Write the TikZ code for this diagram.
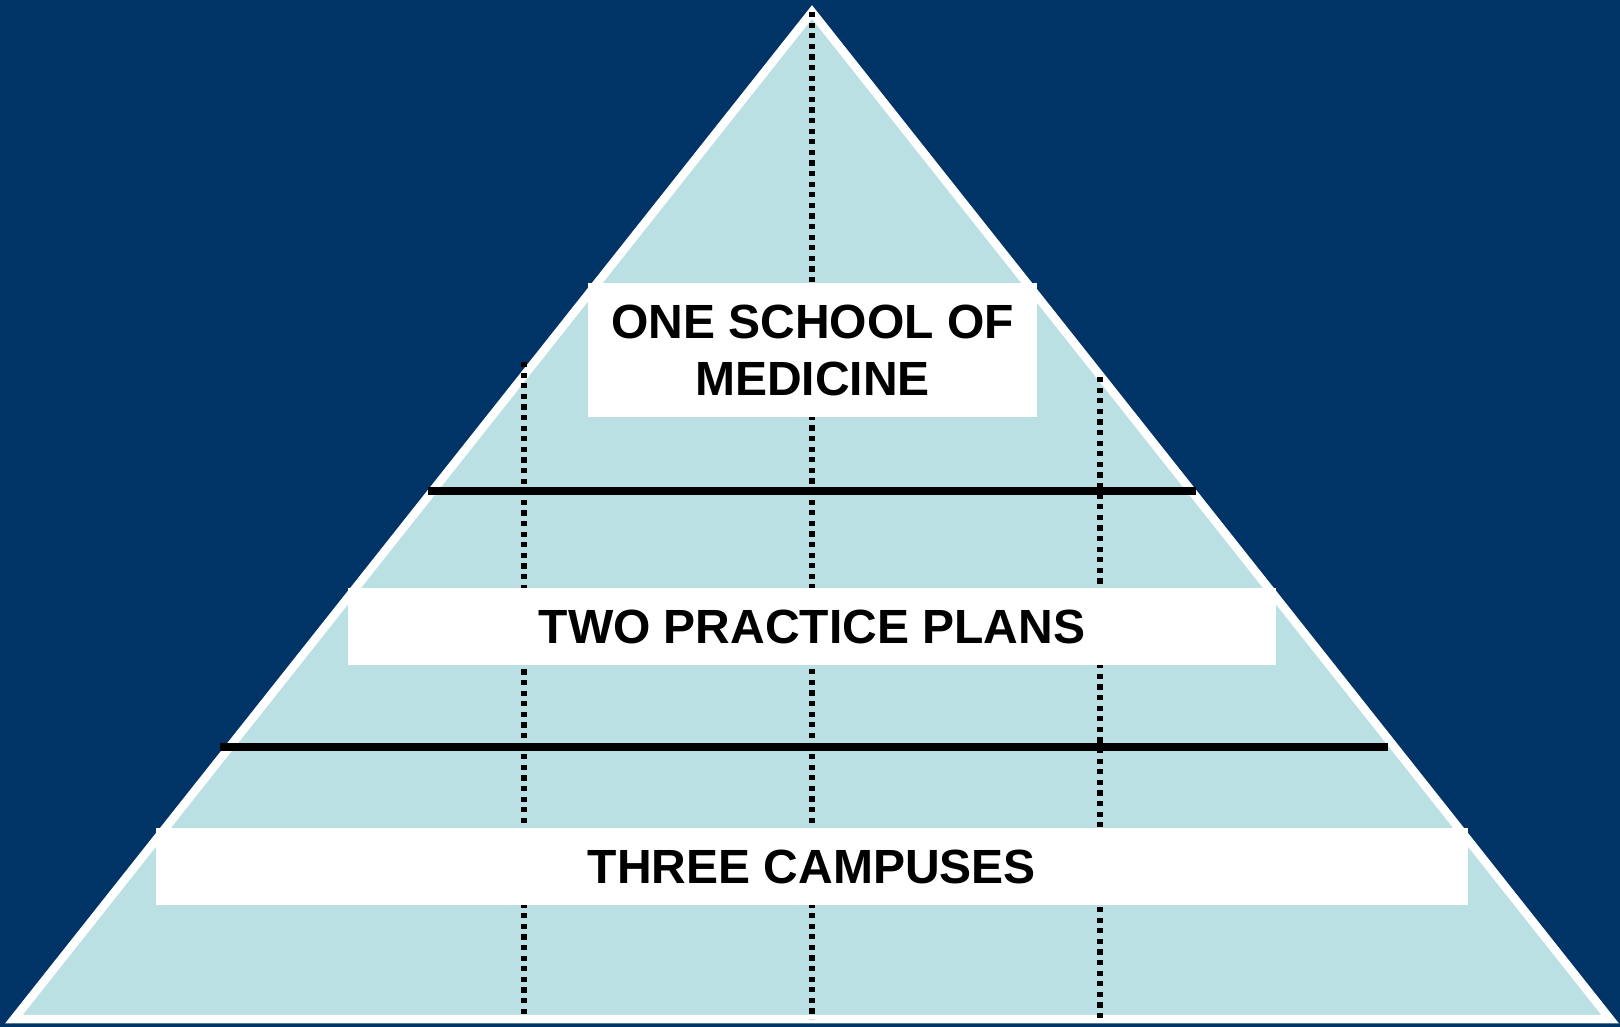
\documentclass[tikz,border=0pt]{standalone}
\usepackage{fontspec}
\setmainfont{Liberation Sans}
\definecolor{navy}{HTML}{003366}
\definecolor{paleblue}{HTML}{BBE0E3}

\begin{document}
\begin{tikzpicture}[x=1pt, y=-1pt,
    levelbox/.style={fill=white, inner sep=0pt, align=center,
      font=\fontsize{48}{57}\selectfont\bfseries},
    dotline/.style={line width=5.2pt, dash pattern=on 5.2pt off 5.4pt},
    tierline/.style={line width=7.5pt}]
        % Background
        \fill[navy] (0,0) rectangle (1620,1027);
        \useasboundingbox (0,0) rectangle (1620,1027);

        % Corners of the pyramid
        \coordinate (A) at (812,12);
        \coordinate (B) at (14,1019);
        \coordinate (C) at (1610,1019);

        % Pyramid
        \fill[paleblue] (A) -- (B) -- (C) -- cycle;
        \draw[white, line width=8.5pt] (A) -- (B) -- (C) -- cycle;

        % Tier lines
        \coordinate (T1L) at (428,491);
        \coordinate (T1R) at (1196,491);
        \coordinate (T2L) at (220,747);
        \coordinate (T2R) at (1388,747);
        \draw[tierline] (T1L) -- (T1R);
        \draw[tierline] (T2L) -- (T2R);

        % Dotted verticals
        \coordinate (D1) at (524,362);
        \coordinate (D2) at (1100,377);
        \draw[dotline] (D1) -- (D1 |- B);
        \draw[dotline] (A) -- (A |- B);
        \draw[dotline] (D2) -- (D2 |- B);

        % Labels
        \node[levelbox, minimum width=449pt, minimum height=134pt]
          (school) at (812.5,350) {ONE SCHOOL OF\\MEDICINE};
        \node[levelbox, minimum width=928pt, minimum height=77pt]
          (plans) at (812,626.5) {TWO PRACTICE PLANS};
        \node[levelbox, minimum width=1312pt, minimum height=77pt]
          (campuses) at (812,866.5) {THREE CAMPUSES};
      \end{tikzpicture}
\end{document}
